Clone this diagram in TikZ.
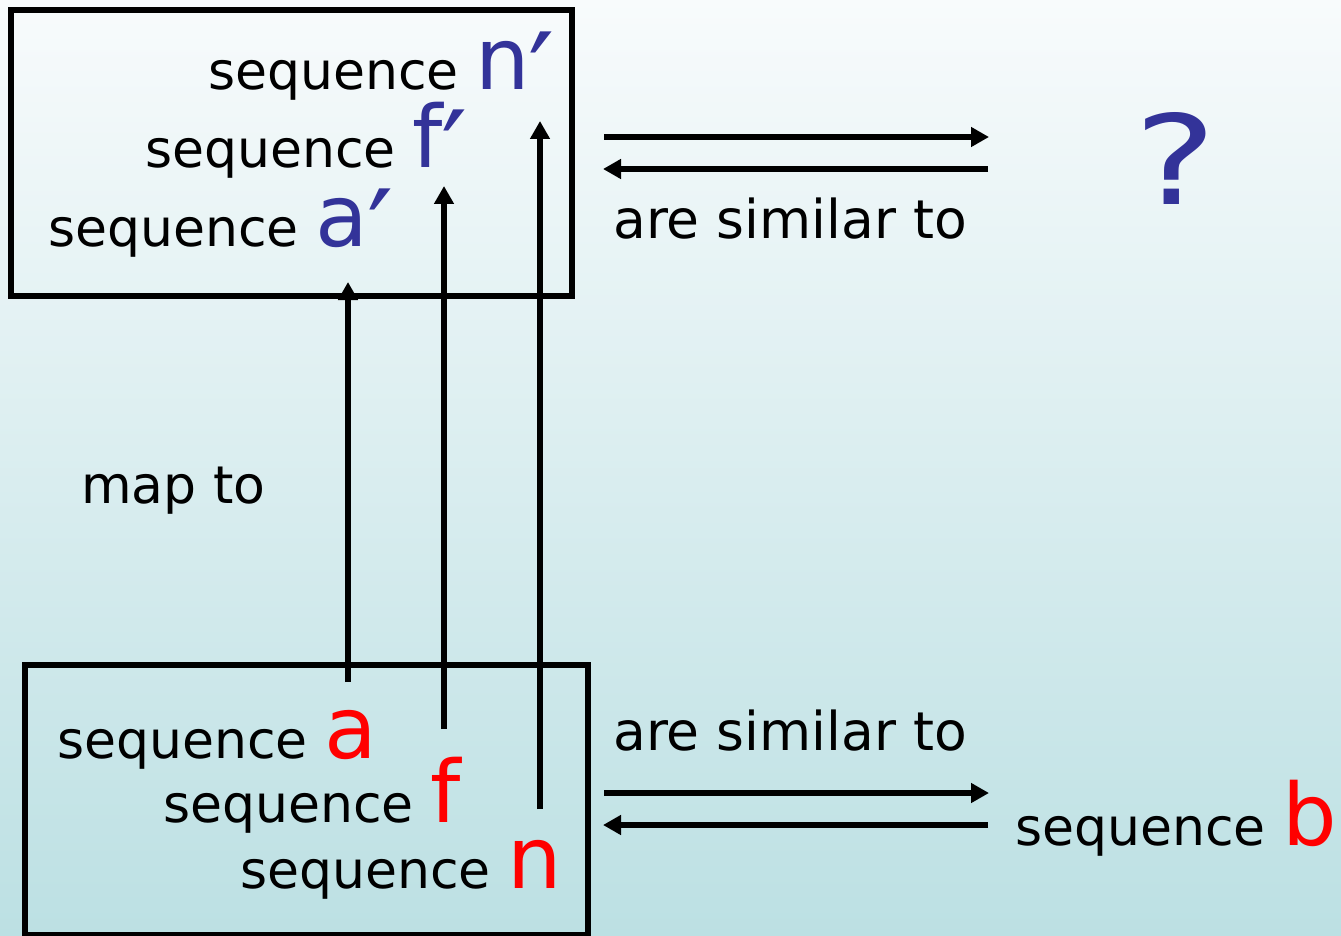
\documentclass[tikz,border=0pt]{standalone}
\usepackage{fontspec}
\setmainfont{DejaVu Sans}
\usepackage{xcolor}
\usepackage{tikz}
\usetikzlibrary{arrows.meta}
\definecolor{qblue}{RGB}{51,51,153}
\definecolor{bgtop}{RGB}{248,251,252}
\definecolor{bgbot}{RGB}{188,224,227}
\newcommand{\seqblue}[1]{{\color{qblue}\fontsize{86}{90}\selectfont #1\kern-1pt\raisebox{-27pt}{\scalebox{1.35}{′}}}}
\newcommand{\seqred}[1]{{\color{red}\fontsize{86}{90}\selectfont #1}}

\begin{document}
\begin{tikzpicture}[
  x=1pt, y=-1pt,
  lbl/.style={inner sep=0pt, anchor=base west, font=\fontsize{52}{60}\selectfont},
  simlbl/.style={lbl, font=\fontsize{53.5}{60}\selectfont},
  box/.style={draw, line width=6pt},
  arr/.style={line width=5.5pt, -{Triangle[length=18pt,width=19pt]}}
]
\useasboundingbox (0,0) rectangle (1341,936);
\shade[top color=bgtop, bottom color=bgbot] (0,0) rectangle (1341,936);

% boxes
\draw[box] (11,10) rectangle (572,296);
\draw[box] (25,665) rectangle (588,935);

% mapped sequences (top)
\node[lbl] (topN) at (208,90) {sequence \seqblue{n}};
\node[lbl] (topF) at (145,168) {sequence \seqblue{f}};
\node[lbl] (topA) at (48,247) {sequence \seqblue{a}};

% original sequences (bottom)
\node[lbl] (botA) at (57,758) {sequence \seqred{a}};
\node[lbl] (botF) at (163,822) {sequence \seqred{f}};
\node[lbl] (botN) at (240,888) {sequence \seqred{n}};

\node[lbl] (seqB) at (1015,845) {sequence \seqred{b}};
\node[inner sep=0pt, anchor=base, text=qblue, font=\fontsize{124}{130}\selectfont] (question) at (1176,205) {\scalebox{1.25}[1]{?}};

\node[lbl] (mapLbl) at (81,503) {map to};
\node[simlbl] (simTop) at (613,238) {are similar to};
\node[simlbl] (simBot) at (613,750) {are similar to};

% arrow ends
\coordinate (aFrom) at (348,682);
\coordinate (aTo) at (348,282);
\coordinate (fFrom) at (444,729);
\coordinate (fTo) at (444,186);
\coordinate (nFrom) at (540,809);
\coordinate (nTo) at (540,121);

\coordinate (tl) at (604,137);
\coordinate (tr) at (989,137);
\coordinate (tl2) at (603,169);
\coordinate (tr2) at (988,169);
\coordinate (bl) at (604,793);
\coordinate (br) at (989,793);
\coordinate (bl2) at (603,825);
\coordinate (br2) at (988,825);

\draw[arr] (aFrom) -- (aTo);
\draw[arr] (fFrom) -- (fTo);
\draw[arr] (nFrom) -- (nTo);

\draw[arr] (tl) -- (tr);
\draw[arr] (tr2) -- (tl2);
\draw[arr] (bl) -- (br);
\draw[arr] (br2) -- (bl2);
\end{tikzpicture}
\end{document}
